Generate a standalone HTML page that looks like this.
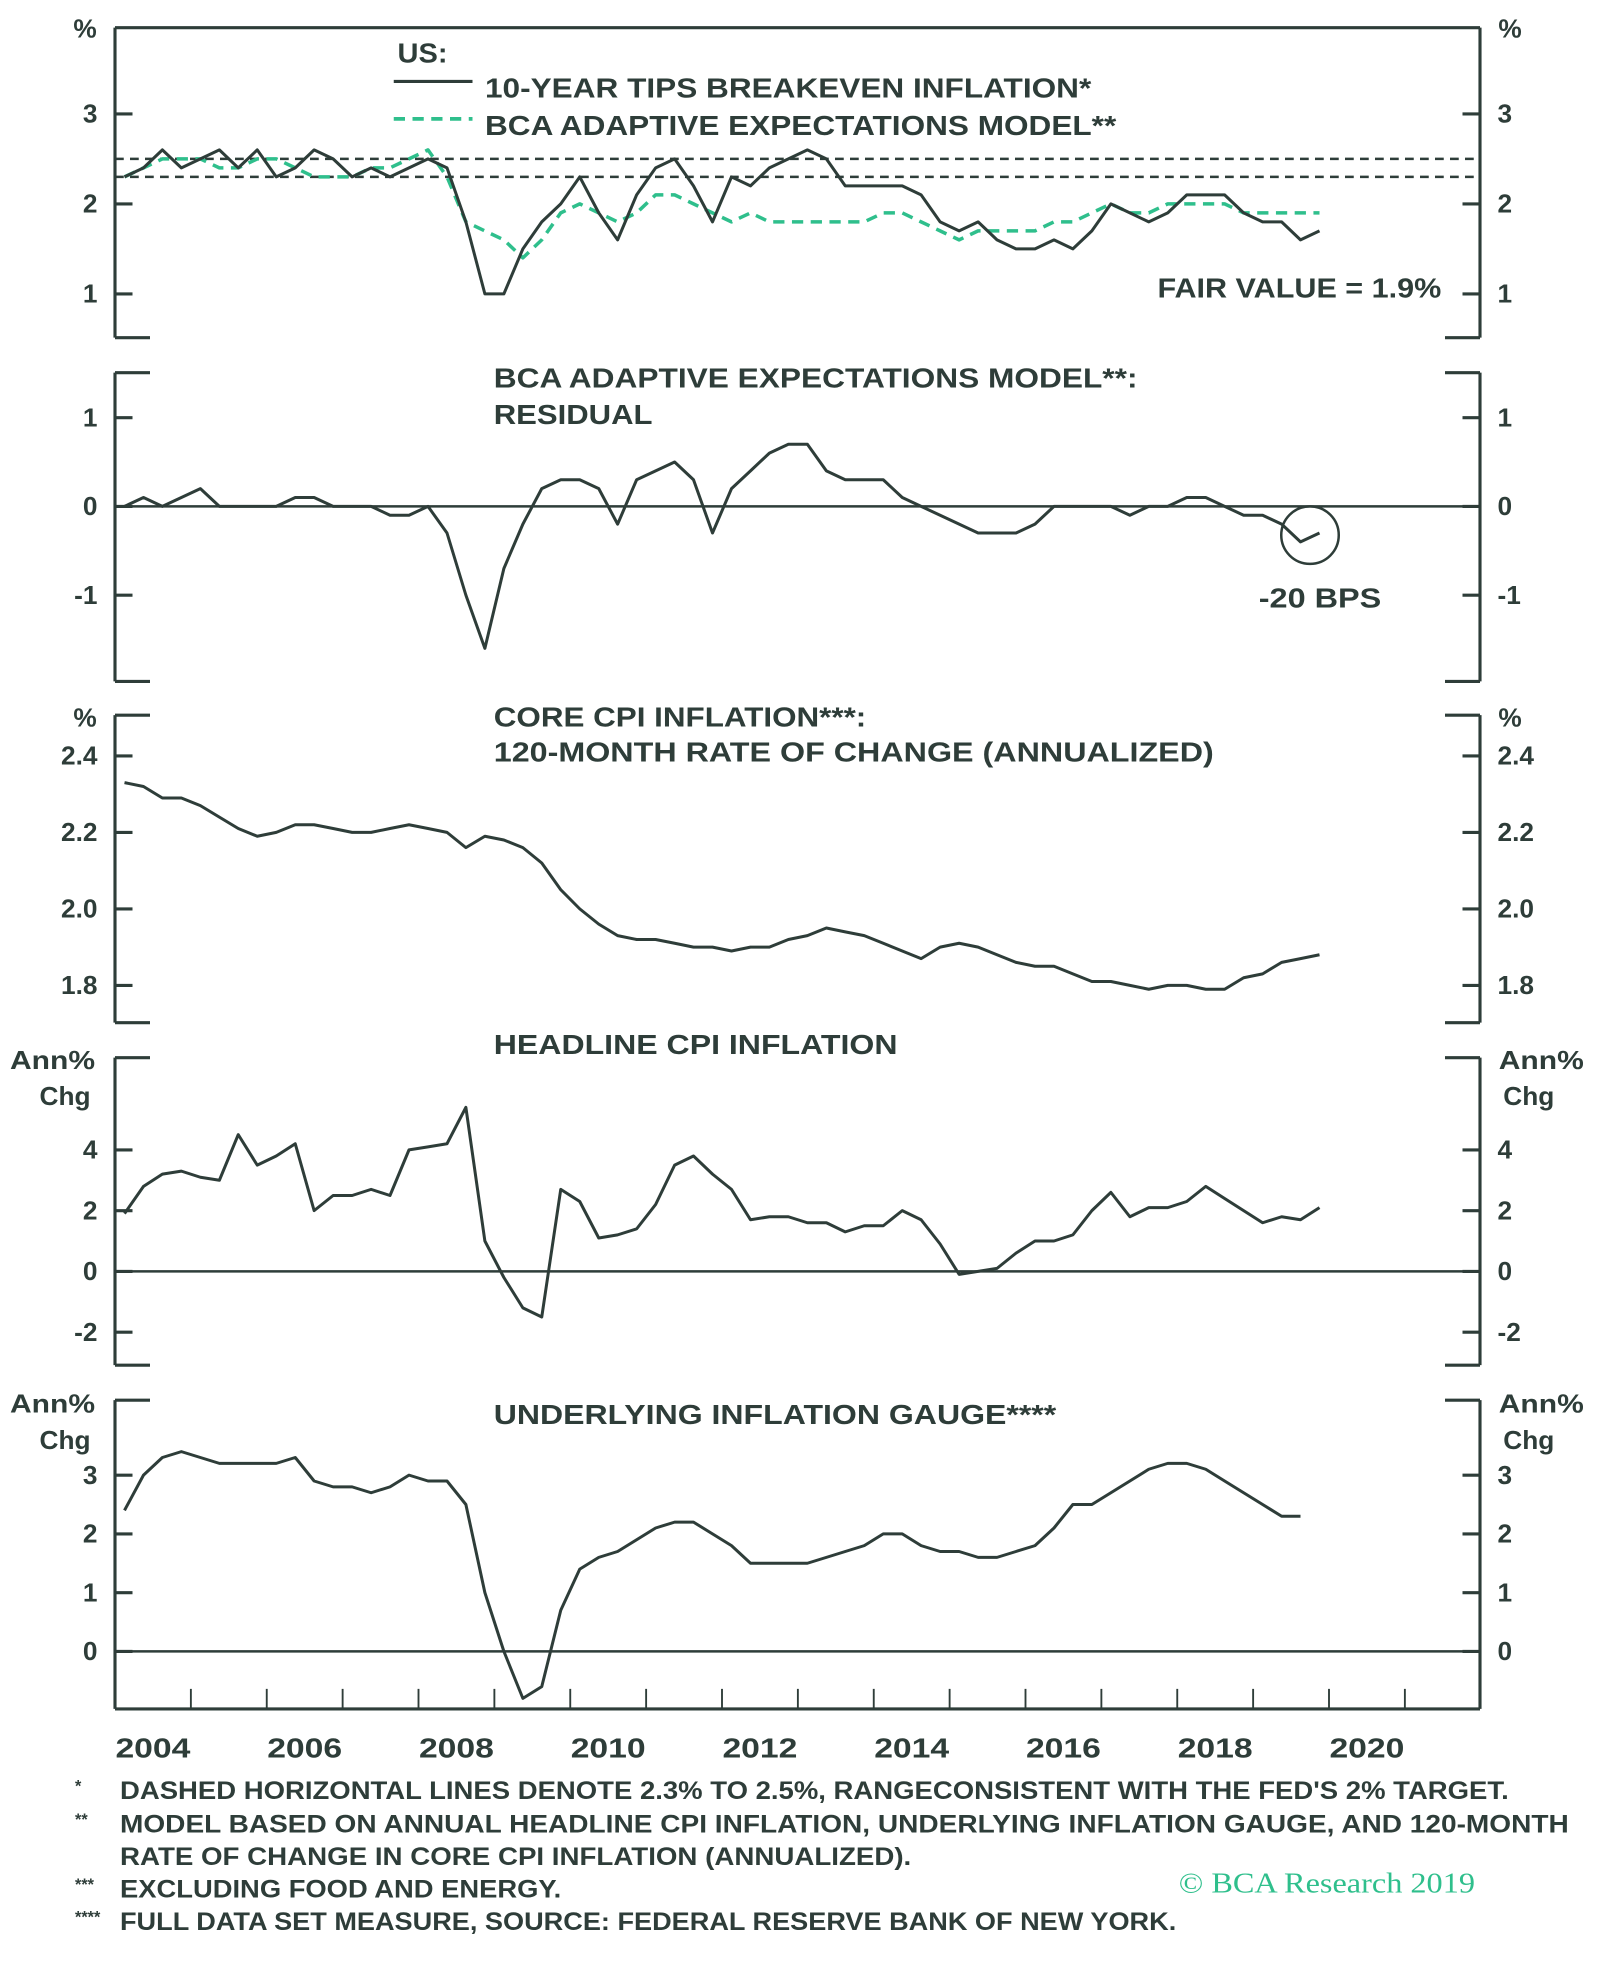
<!DOCTYPE html>
<html><head><meta charset="utf-8"><style>
html,body{margin:0;padding:0;background:#fff}
svg{display:block}
text{font-family:"Liberation Sans",sans-serif;font-weight:bold;fill:#2e3d39}
</style></head><body>
<svg id="chart" width="1600" height="1969" viewBox="0 0 1280 1575" xmlns="http://www.w3.org/2000/svg"></svg>
<script>
const tips=[2.3,2.4,2.6,2.4,2.5,2.6,2.4,2.6,2.3,2.4,2.6,2.5,2.3,2.4,2.3,2.4,2.5,2.4,1.8,1.0,1.0,1.5,1.8,2.0,2.3,1.9,1.6,2.1,2.4,2.5,2.2,1.8,2.3,2.2,2.4,2.5,2.6,2.5,2.2,2.2,2.2,2.2,2.1,1.8,1.7,1.8,1.6,1.5,1.5,1.6,1.5,1.7,2.0,1.9,1.8,1.9,2.1,2.1,2.1,1.9,1.8,1.8,1.6,1.7];
const model=[2.3,2.4,2.5,2.5,2.5,2.4,2.4,2.5,2.5,2.4,2.3,2.3,2.3,2.4,2.4,2.5,2.6,2.3,1.8,1.7,1.6,1.4,1.6,1.9,2.0,1.9,1.8,1.9,2.1,2.1,2.0,1.9,1.8,1.9,1.8,1.8,1.8,1.8,1.8,1.8,1.9,1.9,1.8,1.7,1.6,1.7,1.7,1.7,1.7,1.8,1.8,1.9,2.0,1.9,1.9,2.0,2.0,2.0,2.0,1.9,1.9,1.9,1.9,1.9];
const resid=[0,0.1,0,0.1,0.2,0,0,0,0,0.1,0.1,0,0,0,-0.1,-0.1,0,-0.3,-1.0,-1.6,-0.7,-0.2,0.2,0.3,0.3,0.2,-0.2,0.3,0.4,0.5,0.3,-0.3,0.2,0.4,0.6,0.7,0.7,0.4,0.3,0.3,0.3,0.1,0,-0.1,-0.2,-0.3,-0.3,-0.3,-0.2,0,0,0,0,-0.1,0,0,0.1,0.1,0,-0.1,-0.1,-0.2,-0.4,-0.3];
const core=[2.33,2.32,2.29,2.29,2.27,2.24,2.21,2.19,2.2,2.22,2.22,2.21,2.2,2.2,2.21,2.22,2.21,2.2,2.16,2.19,2.18,2.16,2.12,2.05,2.0,1.96,1.93,1.92,1.92,1.91,1.9,1.9,1.89,1.9,1.9,1.92,1.93,1.95,1.94,1.93,1.91,1.89,1.87,1.9,1.91,1.9,1.88,1.86,1.85,1.85,1.83,1.81,1.81,1.8,1.79,1.8,1.8,1.79,1.79,1.82,1.83,1.86,1.87,1.88];
const headline=[1.9,2.8,3.2,3.3,3.1,3.0,4.5,3.5,3.8,4.2,2.0,2.5,2.5,2.7,2.5,4.0,4.1,4.2,5.4,1.0,-0.2,-1.2,-1.5,2.7,2.3,1.1,1.2,1.4,2.2,3.5,3.8,3.2,2.7,1.7,1.8,1.8,1.6,1.6,1.3,1.5,1.5,2.0,1.7,0.9,-0.1,0,0.1,0.6,1.0,1.0,1.2,2.0,2.6,1.8,2.1,2.1,2.3,2.8,2.4,2.0,1.6,1.8,1.7,2.1];
const uig=[2.4,3.0,3.3,3.4,3.3,3.2,3.2,3.2,3.2,3.3,2.9,2.8,2.8,2.7,2.8,3.0,2.9,2.9,2.5,1.0,0.0,-0.8,-0.6,0.7,1.4,1.6,1.7,1.9,2.1,2.2,2.2,2.0,1.8,1.5,1.5,1.5,1.5,1.6,1.7,1.8,2.0,2.0,1.8,1.7,1.7,1.6,1.6,1.7,1.8,2.1,2.5,2.5,2.7,2.9,3.1,3.2,3.2,3.1,2.9,2.7,2.5,2.3,2.3];
const yearLabels=["2004","2006","2008","2010","2012","2014","2016","2018","2020"];
const p1Ticks=[3,2,1],p2Ticks=[1,0,-1],p3Ticks=["2.4","2.2","2.0","1.8"],p4Ticks=[4,2,0,-2],p5Ticks=[3,2,1,0];

const NS="http://www.w3.org/2000/svg";
const svg=document.getElementById('chart');
const X0=92,X1=1184,C="#2e3d39",G="#2fbf8c";
function x(t){return X0+(t-2004)*60.7;}
function tq(i){return 2004+i/4+0.125;}
function mk(tag,attrs,parent){const e=document.createElementNS(NS,tag);for(const k in attrs)e.setAttribute(k,attrs[k]);(parent||svg).appendChild(e);return e;}
function txt(s,xx,yy,size,anchor,name,len){const e=mk('text',{x:xx,y:yy,'font-size':size,'text-anchor':anchor||'start'});
if(len){e.setAttribute('textLength',len);e.setAttribute('lengthAdjust','spacingAndGlyphs');}
e.textContent=s;


return e;}
function frame(top,bot,name,fullTop,fullBot){
 const g=mk('g',{});
 
 
 const sw=2.5;
 mk('line',{x1:X0,y1:top,x2:X0,y2:bot,stroke:C,'stroke-width':sw},g);
 mk('line',{x1:X1,y1:top,x2:X1,y2:bot,stroke:C,'stroke-width':sw},g);
 if(fullTop)mk('line',{x1:X0,y1:top,x2:X1,y2:top,stroke:C,'stroke-width':sw},g);
 else{mk('line',{x1:X0,y1:top,x2:X0+28,y2:top,stroke:C,'stroke-width':sw},g);mk('line',{x1:X1-28,y1:top,x2:X1,y2:top,stroke:C,'stroke-width':sw},g);}
 if(fullBot)mk('line',{x1:X0,y1:bot,x2:X1,y2:bot,stroke:C,'stroke-width':sw},g);
 else{mk('line',{x1:X0,y1:bot,x2:X0+28,y2:bot,stroke:C,'stroke-width':sw},g);mk('line',{x1:X1-28,y1:bot,x2:X1,y2:bot,stroke:C,'stroke-width':sw},g);}
}
function ticks(vals,yf,name){
 vals.forEach(v=>{const yy=yf(parseFloat(v));
  mk('line',{x1:X0,y1:yy,x2:X0+14,y2:yy,stroke:C,'stroke-width':2.5});
  mk('line',{x1:X1-14,y1:yy,x2:X1,y2:yy,stroke:C,'stroke-width':2.5});
  txt(String(v),78,yy+7,21,'end',name+'-left-tick');
  txt(String(v),1198,yy+7,21,'start',name+'-right-tick');
 });
}
function line(data,yf,name,color,dash,w){
 const pts=data.map((v,i)=>x(tq(i)).toFixed(1)+','+yf(v).toFixed(1)).join(' ');
 const e=mk('polyline',{points:pts,fill:'none',stroke:color,'stroke-width':w||2.4,'stroke-linejoin':'round'});
 if(dash)e.setAttribute('stroke-dasharray',dash);
 
 
}
function hline(v,yf,name,dash){const e=mk('line',{x1:X0,y1:yf(v),x2:X1,y2:yf(v),stroke:C,'stroke-width':2});if(dash)e.setAttribute('stroke-dasharray',dash);

}

// Panel 1
const y1=v=>163-(v-2)*72;
frame(22,270,'tips-panel',true,false);
ticks(p1Ticks,y1,'tips-axis');
txt('%',68,30,21,'middle','tips-left-unit');txt('%',1208,30,21,'middle','tips-right-unit');
hline(2.5,y1,'target-upper-line','7,5');hline(2.3,y1,'target-lower-line','7,5');
line(model,y1,'model-line',G,'9,6',2.8);
line(tips,y1,'tips-line',C,null,2.4);
txt('US:',318,50,22,'start','legend-title',40);
mk('line',{x1:315,y1:65,x2:378,y2:65,stroke:C,'stroke-width':2.5});
txt('10-YEAR TIPS BREAKEVEN INFLATION*',388,78,22,'start','legend-tips',485);
mk('line',{x1:315,y1:95,x2:378,y2:95,stroke:G,'stroke-width':3,'stroke-dasharray':'9,6'});
txt('BCA ADAPTIVE EXPECTATIONS MODEL**',388,108,22,'start','legend-model',505);
txt('FAIR VALUE = 1.9%',926,238,22,'start','fair-value-label',227);

// Panel 2
const y2=v=>405-v*71;
frame(298,545,'residual-panel',false,false);
ticks(p2Ticks,y2,'residual-axis');
hline(0,y2,'residual-zero-line');
line(resid,y2,'residual-line',C,null,2.4);
txt('BCA ADAPTIVE EXPECTATIONS MODEL**:',395,310,22,'start','residual-title',515);
txt('RESIDUAL',395,339,22,'start','residual-title-2',127);
const circ=mk('circle',{cx:1048,cy:428,r:23,fill:'none',stroke:C,'stroke-width':2});


txt('-20 BPS',1007,486,22,'start','residual-annotation',98);

// Panel 3
const y3=v=>727-(v-2)*306;
frame(572,818,'core-cpi-panel',false,false);
ticks(p3Ticks,y3,'core-axis');
txt('%',68,581,21,'middle','core-left-unit');txt('%',1208,581,21,'middle','core-right-unit');
line(core,y3,'core-cpi-line',C,null,2.4);
txt('CORE CPI INFLATION***:',395,581,22,'start','core-title',298);
txt('120-MONTH RATE OF CHANGE (ANNUALIZED)',395,609,22,'start','core-title-2',576);

// Panel 4
const y4=v=>1017-v*24.3;
frame(846,1092,'headline-panel',false,false);
ticks(p4Ticks,y4,'headline-axis');
txt('Ann%',42,855,21,'middle','headline-left-unit',68);txt('Chg',52,884,21,'middle','headline-left-unit-2');
txt('Ann%',1233,855,21,'middle','headline-right-unit',68);txt('Chg',1223,884,21,'middle','headline-right-unit-2');
hline(0,y4,'headline-zero-line');
line(headline,y4,'headline-cpi-line',C,null,2.4);
txt('HEADLINE CPI INFLATION',395,843,22,'start','headline-title',323);

// Panel 5
const y5=v=>1321-v*47;
frame(1120,1367,'uig-panel',false,true);
ticks(p5Ticks,y5,'uig-axis');
txt('Ann%',42,1130,21,'middle','uig-left-unit',68);txt('Chg',52,1159,21,'middle','uig-left-unit-2');
txt('Ann%',1233,1130,21,'middle','uig-right-unit',68);txt('Chg',1223,1159,21,'middle','uig-right-unit-2');
hline(0,y5,'uig-zero-line');
line(uig,y5,'uig-line',C,null,2.4);
txt('UNDERLYING INFLATION GAUGE****',395,1139,22,'start','uig-title',450);

// x-axis
for(let yr=2005;yr<=2021;yr++){mk('line',{x1:x(yr),y1:1367,x2:x(yr),y2:1351,stroke:C,'stroke-width':1.5});}
yearLabels.forEach(s=>{txt(s,x(+s+0.5)-30,1406,22,'start','x-tick-label',60);});

// footnotes
const notes=[['*','DASHED HORIZONTAL LINES DENOTE 2.3% TO 2.5%, RANGECONSISTENT WITH THE FED\'S 2% TARGET.',1439,1111],
['**','MODEL BASED ON ANNUAL HEADLINE CPI INFLATION, UNDERLYING INFLATION GAUGE, AND 120-MONTH',1466,1159],
['','RATE OF CHANGE IN CORE CPI INFLATION (ANNUALIZED).',1492,633],
['***','EXCLUDING FOOD AND ENERGY.',1518,353],
['****','FULL DATA SET MEASURE, SOURCE: FEDERAL RESERVE BANK OF NEW YORK.',1544,845]];
notes.forEach(n=>{if(n[0])txt(n[0],60,n[2]-6,13,'start','footnote-marker');txt(n[1],96,n[2],20,'start','footnote',n[3]);});
const cr=mk('text',{x:943,y:1514,'font-size':23,textLength:237,lengthAdjust:'spacingAndGlyphs'});
cr.setAttribute('style','fill:'+G+';font-family:"Liberation Serif",serif;font-weight:normal');
cr.textContent='© BCA Research 2019';


</script>
</body></html>
